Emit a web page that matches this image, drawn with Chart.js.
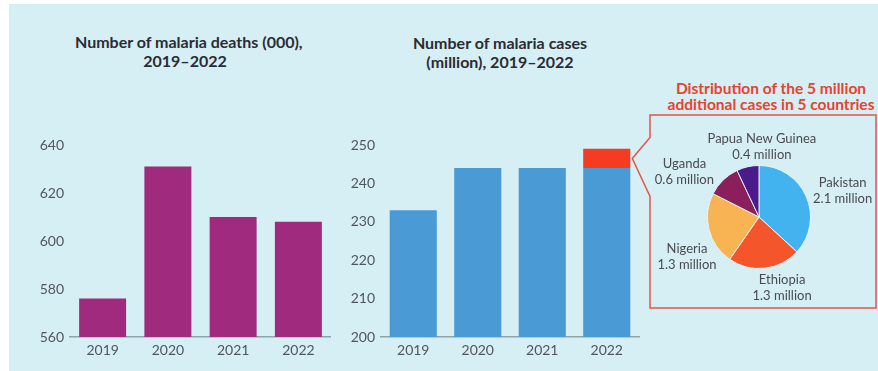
<!DOCTYPE html>
<html>
<head>
<meta charset="utf-8">
<script src="https://cdn.jsdelivr.net/npm/chart.js"></script>
<style>
  body { margin: 0; width: 878px; height: 371px; background: #fff; position: relative; overflow: hidden; font-family: Lato, sans-serif; }
  #panel { position: absolute; left: 9px; top: 4px; right: 0; bottom: 0; background: #d5eff5; }
  .title { position: absolute; text-align: center; font-weight: 700; color: #2b2b33; font-size: 16px; line-height: 18.5px; white-space: nowrap; }
  #t1 { left: 75px; width: 220px; top: 33px; }
  #t2 { left: 390px; width: 220px; top: 34px; }
  #t3 { left: 661px; width: 220px; top: 80px; color: #e8432e; font-size: 15.5px; line-height: 16px; }
  canvas { position: absolute; }
  #deaths { left: 0; top: 130px; }
  #cases { left: 330px; top: 100px; }
  #split { left: 650px; top: 115px; }
</style>
</head>
<body>
<div id="panel"></div>
<div class="title" id="t1">Number of malaria deaths (000),<br>2019–2022</div>
<div class="title" id="t2">Number of malaria cases<br>(million), 2019–2022</div>
<div class="title" id="t3">Distribution of the 5 million<br>additional cases in 5 countries</div>
<canvas id="deaths" width="331" height="241"></canvas>
<canvas id="cases" width="548" height="271"></canvas>
<canvas id="split" width="226" height="193"></canvas>
<script>
const years = ['2019', '2020', '2021', '2022'];
const deaths = [576, 631, 610, 608];          // thousands
const casesBase = [233, 244, 244, 244];       // million
const casesExtra = [null, null, null, 5];     // extra cases in 2022
const deathTicks = [560, 580, 600, 620, 640];
const caseTicks = [200, 210, 220, 230, 240, 250];
const countries = ['Pakistan', 'Ethiopia', 'Nigeria', 'Uganda', 'Papua New Guinea'];
const extraCases = [2.1, 1.3, 1.3, 0.6, 0.4];

Chart.defaults.font.family = 'Lato, sans-serif';
Chart.defaults.animation = false;

const tickFont = { size: 14 };
const tickColor = '#50565b';
const axisColor = '#8fa3ad';

function barScales(ticks, yWidth, stacked) {
  return {
    x: {
      stacked: stacked,
      grid: { display: false, drawTicks: false },
      border: { display: true, color: axisColor, width: 1.5 },
      ticks: { font: tickFont, color: tickColor, padding: 5 },
      afterFit: s => { s.height = 34; }
    },
    y: {
      stacked: stacked,
      min: ticks[0],
      max: ticks[ticks.length - 1],
      grid: { display: false, drawTicks: false },
      border: { display: false },
      ticks: { font: tickFont, color: tickColor, padding: 6 },
      afterBuildTicks: s => { s.ticks = ticks.map(v => ({ value: v })); },
      afterFit: s => { s.width = yWidth; }
    }
  };
}

new Chart('deaths', {
  type: 'bar',
  data: {
    labels: years,
    datasets: [{ data: deaths, backgroundColor: '#a02a7e', barPercentage: 0.72, categoryPercentage: 1 }]
  },
  options: {
    responsive: false,
    layout: { padding: { top: 15, right: 0 } },
    plugins: { legend: { display: false }, tooltip: { enabled: false } },
    scales: barScales(deathTicks, 70, false)
  }
});

// red frame around the pie, with a pointer to the extra 2022 segment
const callout = {
  id: 'callout',
  afterDraw(chart) {
    const bar = chart.getDatasetMeta(1).data[3];
    const ctx = chart.ctx;
    const tipX = bar.x + bar.width / 2 + 2;
    const tipY = (bar.y + bar.base) / 2;
    const left = 320, right = 546, top = 15, bottom = 208;
    ctx.save();
    ctx.strokeStyle = '#e3564a';
    ctx.lineWidth = 1.5;
    ctx.beginPath();
    ctx.moveTo(left, tipY - 21);
    ctx.lineTo(left, top);
    ctx.lineTo(right, top);
    ctx.lineTo(right, bottom);
    ctx.lineTo(left, bottom);
    ctx.lineTo(left, tipY + 38);
    ctx.lineTo(tipX, tipY);
    ctx.closePath();
    ctx.stroke();
    ctx.restore();
  }
};

new Chart('cases', {
  type: 'bar',
  data: {
    labels: years,
    datasets: [
      { data: casesBase, backgroundColor: '#4a9ad6', barPercentage: 0.73, categoryPercentage: 1 },
      { data: casesExtra, backgroundColor: '#f53b22', barPercentage: 0.73, categoryPercentage: 1 }
    ]
  },
  options: {
    responsive: false,
    layout: { padding: { top: 45, right: 239 } },
    plugins: { legend: { display: false }, tooltip: { enabled: false } },
    scales: barScales(caseTicks, 51, true)
  },
  plugins: [callout]
});

// label spots: angle nudge (deg) from slice middle, distance in radii
const labelSpots = [[6.5, 1.7], [-11.7, 1.45], [-14.9, 1.6], [-14.8, 1.69], [15, 1.37]];

const pieLabels = {
  id: 'pieLabels',
  afterDraw(chart) {
    const ctx = chart.ctx;
    const arcs = chart.getDatasetMeta(0).data;
    ctx.save();
    ctx.font = '13px Lato, sans-serif';
    ctx.fillStyle = '#4a4a4f';
    ctx.textAlign = 'center';
    ctx.textBaseline = 'middle';
    arcs.forEach((arc, i) => {
      const mid = (arc.startAngle + arc.endAngle) / 2 + labelSpots[i][0] * Math.PI / 180;
      const d = arc.outerRadius * labelSpots[i][1];
      const x = arc.x + Math.cos(mid) * d;
      const y = arc.y + Math.sin(mid) * d;
      ctx.fillText(countries[i], x, y - 8);
      ctx.fillText(extraCases[i] + ' million', x, y + 8);
    });
    ctx.restore();
  }
};

new Chart('split', {
  type: 'pie',
  data: {
    labels: countries,
    datasets: [{
      data: extraCases,
      backgroundColor: ['#43b3ef', '#f4552b', '#f8b352', '#8a1f5c', '#4a1b8c'],
      borderColor: '#e3f4f8',
      borderWidth: 1
    }]
  },
  options: {
    responsive: false,
    layout: { padding: { left: 57, top: 50, right: 65, bottom: 39 } },
    plugins: { legend: { display: false }, tooltip: { enabled: false } }
  },
  plugins: [pieLabels]
});
</script>
</body>
</html>
